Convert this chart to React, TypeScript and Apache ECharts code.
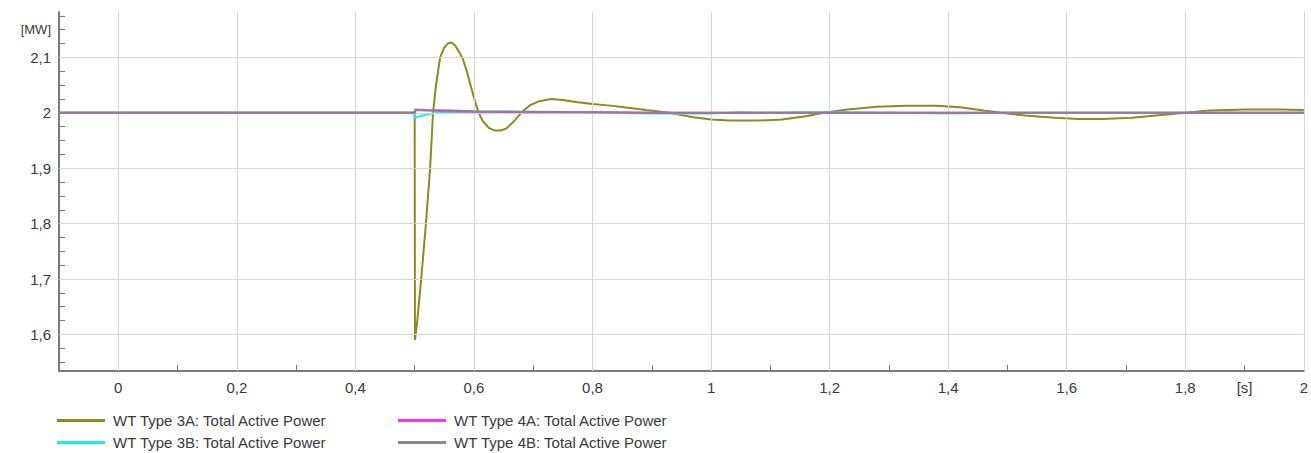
import React, { useEffect, useRef } from "react";
import * as echarts from "echarts";

// ---- data ----
const NAME_3A = "WT Type 3A: Total Active Power";
const NAME_3B = "WT Type 3B: Total Active Power";
const NAME_4A = "WT Type 4A: Total Active Power";
const NAME_4B = "WT Type 4B: Total Active Power";

const T_3A = [
  -0.1, 0.5, 0.5005, 0.504, 0.511, 0.519, 0.526, 0.531, 0.536, 0.543, 0.55, 0.556, 0.562, 0.568,
  0.575, 0.581, 0.588, 0.595, 0.602, 0.608, 0.615, 0.625, 0.635, 0.645, 0.655, 0.665, 0.675, 0.685,
  0.695, 0.71, 0.73, 0.75, 0.775, 0.8, 0.83, 0.86, 0.89, 0.93, 0.97, 1.0, 1.03, 1.08, 1.12, 1.16,
  1.19, 1.23, 1.28, 1.33, 1.38, 1.42, 1.46, 1.49, 1.53, 1.58, 1.62, 1.66, 1.71, 1.76, 1.8, 1.84,
  1.9, 1.96, 2.0,
];
const V_3A = [
  2.0, 2.0, 1.59, 1.62, 1.7, 1.8, 1.9, 2.0, 2.05, 2.1, 2.118, 2.125, 2.127, 2.122,
  2.11, 2.098, 2.075, 2.047, 2.02, 2.0, 1.985, 1.973, 1.968, 1.968, 1.972, 1.982, 1.994, 2.005,
  2.014, 2.021, 2.025, 2.023, 2.019, 2.016, 2.013, 2.009, 2.005, 2.0, 1.992, 1.988, 1.986, 1.986, 1.988, 1.994,
  2.0, 2.006, 2.011, 2.013, 2.013, 2.01, 2.004, 2.0, 1.995, 1.991, 1.989, 1.989, 1.991, 1.996, 2.0, 2.004,
  2.006, 2.006, 2.005,
];

const T_3B = [-0.1, 0.5, 0.5005, 0.51, 0.52, 0.53, 0.55, 0.6, 0.65, 0.7, 0.8, 0.9, 1.0, 1.05, 1.1, 1.15, 1.22, 1.3, 1.4, 1.5, 2.0];
const V_3B = [2.0, 2.0, 1.991, 1.994, 1.997, 1.999, 2.001, 2.002, 2.002, 2.001, 2.0, 1.999, 1.999, 2.001, 2.0, 2.001, 2.001, 2.0, 1.999, 2.0, 2.0];

const T_4A = [-0.1, 0.5, 0.5005, 0.52, 0.56, 0.6, 0.7, 0.8, 0.9, 2.0];
const V_4A = [2.0, 2.0, 2.005, 2.004, 2.003, 2.002, 2.001, 2.001, 2.0, 2.0];

const T_4B = [-0.1, 0.5, 0.5005, 0.52, 0.56, 0.6, 0.7, 0.8, 0.9, 2.0];
const V_4B = [2.0, 2.0, 2.006, 2.005, 2.004, 2.003, 2.002, 2.001, 2.0, 2.0];

// ---- axes ----
const X_MIN = -0.1;
const X_MAX = 2;
const Y_MIN = 1.534;
const Y_MAX = 2.182;

const X_TICKS = [0.1, 0.2, 0.3, 0.4, 0.5, 0.6, 0.7, 0.8, 0.9, 1.0, 1.1, 1.2, 1.3, 1.4, 1.5, 1.6, 1.7, 1.8, 1.9];
const X_LABELS = [0, 0.2, 0.4, 0.6, 0.8, 1.0, 1.2, 1.4, 1.6, 1.8, 1.9, 2.0];
const X_GRID = [0, 0.2, 0.4, 0.6, 0.8, 1.0, 1.2, 1.4, 1.6, 1.8, 2.0];
const X_UNIT = "[s]";
const X_UNIT_AT = 1.9;

const Y_TICKS = [
  1.55, 1.575, 1.6, 1.625, 1.65, 1.675, 1.7, 1.725, 1.75, 1.775, 1.8, 1.825, 1.85,
  1.875, 1.9, 1.925, 1.95, 1.975, 2.0, 2.025, 2.05, 2.075, 2.1, 2.125, 2.15, 2.175,
];
const Y_LABELS = [1.6, 1.7, 1.8, 1.9, 2.0, 2.1, 2.15];
const Y_GRID = [1.6, 1.7, 1.8, 1.9, 2.0, 2.1];
const Y_UNIT = "[MW]";
const Y_UNIT_AT = 2.15;

const COLORS = {
  a3: "#8c8c1c",
  b3: "#12f0f4",
  a4: "#ff2eff",
  b4: "#8a8a8a",
  b4Line: "#8e8092",
};

const zip = (t: number[], v: number[]) => t.map((x, i) => [x, v[i]]);
const fmt = (v: number) => String(+v.toFixed(2)).replace(".", ",");

const FONT = "'Liberation Sans', Arial, sans-serif";
const TEXT_COLOR = "#3a3a3a";
const AXIS_COLOR = "#7a7a7a";
const GRID_COLOR = "#d6d6d6";

export default function App() {
  const ref = useRef<HTMLDivElement>(null);

  useEffect(() => {
    if (!ref.current) return;
    const chart = echarts.init(ref.current, undefined, { renderer: "svg" });

    const lineSeries = (name: string, data: number[][], color: string, lineColor: string, width: number, z: number) => ({
      name,
      type: "line",
      data,
      color,
      showSymbol: false,
      symbol: "none",
      z,
      itemStyle: { color },
      lineStyle: { color: lineColor, width },
      emphasis: { disabled: true },
    });

    const legendCommon = {
      orient: "vertical",
      top: 413,
      padding: 0,
      itemWidth: 48,
      itemHeight: 3,
      itemGap: 7,
      icon: "rect",
      selectedMode: false,
      textStyle: { fontFamily: FONT, fontSize: 15, color: TEXT_COLOR, padding: [0, 0, 0, 3] },
    };

    chart.setOption({
      animation: false,
      textStyle: { fontFamily: FONT },
      grid: { left: 59, right: 6, top: 12, bottom: 82, containLabel: false },
      legend: [
        { ...legendCommon, left: 57, data: [NAME_3A, NAME_3B] },
        { ...legendCommon, left: 398, data: [NAME_4A, NAME_4B] },
      ],
      xAxis: {
        type: "value",
        min: X_MIN,
        max: X_MAX,
        axisLine: { show: true, onZero: false, lineStyle: { color: AXIS_COLOR, width: 2 } },
        axisTick: { show: true, inside: true, length: 6, customValues: X_TICKS, lineStyle: { color: AXIS_COLOR, width: 1 } },
        axisLabel: {
          customValues: X_LABELS,
          showMinLabel: true,
          showMaxLabel: true,
          margin: 9,
          fontFamily: FONT,
          fontSize: 15,
          color: TEXT_COLOR,
          formatter: (v: number) => (Math.abs(v - X_UNIT_AT) < 1e-6 ? X_UNIT : fmt(v)),
        },
        splitLine: { show: false },
      },
      yAxis: {
        type: "value",
        min: Y_MIN,
        max: Y_MAX,
        axisLine: { show: true, onZero: false, lineStyle: { color: AXIS_COLOR, width: 2 } },
        axisTick: { show: true, inside: true, length: 6, customValues: Y_TICKS, lineStyle: { color: AXIS_COLOR, width: 1 } },
        axisLabel: {
          customValues: Y_LABELS,
          margin: 8,
          fontFamily: FONT,
          fontSize: 15,
          color: TEXT_COLOR,
          formatter: (v: number) => (Math.abs(v - Y_UNIT_AT) < 1e-6 ? "{u|" + Y_UNIT + "}" : fmt(v)),
          rich: { u: { fontFamily: FONT, fontSize: 13, color: TEXT_COLOR } },
        },
        splitLine: { show: false },
      },
      series: [
        {
          type: "line",
          data: [],
          z: 1,
          silent: true,
          markLine: {
            silent: true,
            symbol: ["none", "none"],
            label: { show: false },
            emphasis: { disabled: true },
            lineStyle: { color: GRID_COLOR, width: 1, type: "solid" },
            data: [...X_GRID.map((x) => ({ xAxis: x })), ...Y_GRID.map((y) => ({ yAxis: y }))],
          },
        },
        lineSeries(NAME_3A, zip(T_3A, V_3A), COLORS.a3, COLORS.a3, 2, 3),
        lineSeries(NAME_3B, zip(T_3B, V_3B), COLORS.b3, COLORS.b3, 2, 4),
        lineSeries(NAME_4A, zip(T_4A, V_4A), COLORS.a4, COLORS.a4, 2, 5),
        lineSeries(NAME_4B, zip(T_4B, V_4B), COLORS.b4, COLORS.b4Line, 2, 6),
      ],
    });

    return () => chart.dispose();
  }, []);

  return <div ref={ref} style={{ position: "absolute", left: 0, top: 0, width: 1311, height: 453 }} />;
}
